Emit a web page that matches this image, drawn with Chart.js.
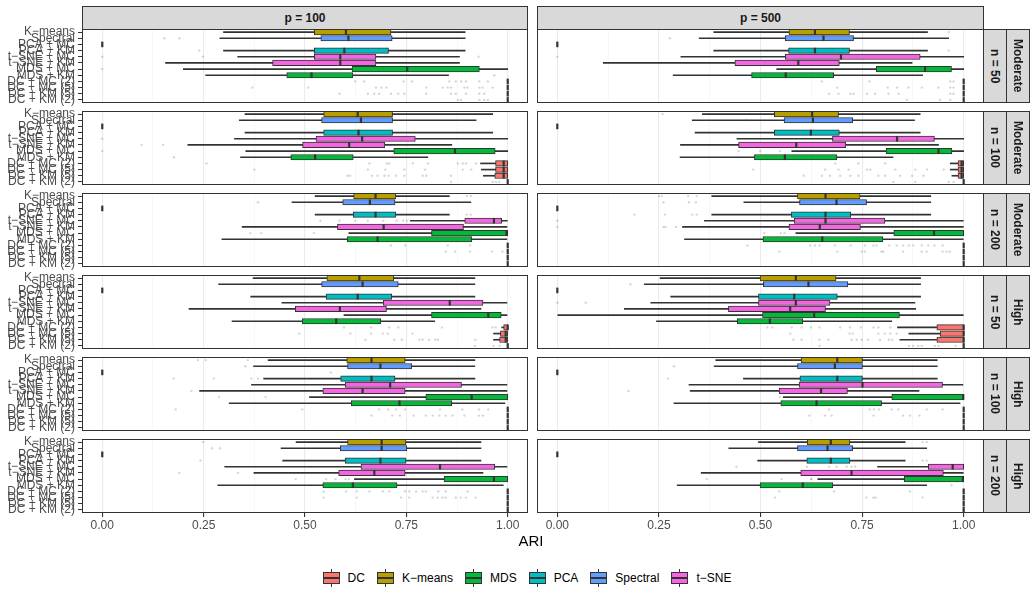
<!DOCTYPE html>
<html>
<head>
<meta charset="utf-8">
<script src="https://cdn.jsdelivr.net/npm/chart.js@4.4.1/dist/chart.umd.min.js"></script>
<style>
  body { margin: 0; background: #fff; font-family: "Liberation Sans", Arial, sans-serif; }
  #fig { position: relative; width: 1036px; height: 595px; overflow: hidden; background: #fff; }
  #fig canvas { position: absolute; }
  .strip { position: absolute; background: #D9D9D9; border: 1px solid #333; box-sizing: border-box;
           color: #1A1A1A; font-size: 12px; font-weight: bold; display: flex; align-items: center; justify-content: center; }
  .strip.v span { writing-mode: vertical-rl; }
  #titulo-x { position: absolute; left: 0; width: 1062px; top: 532px; text-align: center; font-size: 15px; color: #000; }
  #legenda { position: absolute; left: 0; width: 1066px; top: 569px; display: flex; justify-content: center; align-items: center;
             font-size: 12px; color: #000; }
  .chave { position: relative; width: 17px; height: 18px; margin-right: 8px; }
  .chave .bx { position: absolute; left: 0; top: 3px; width: 17px; height: 12px; border: 1px solid #333; box-sizing: border-box; }
  .chave .md { position: absolute; left: 0; top: 8px; width: 17px; height: 2px; background: #333; }
  .chave .wt { position: absolute; left: 8px; top: 0; width: 1px; height: 3px; background: #333; }
  .chave .wb { position: absolute; left: 8px; top: 15px; width: 1px; height: 3px; background: #333; }
  .rotulo { margin-right: 12px; }
</style>
</head>
<body>
<div id="fig"></div>
<script>
// ============================
// Categorias e rótulos
// ============================
const metodos = ['K−means', 'Spectral', 'PCA + MC', 'PCA + KM', 't−SNE + MC', 't−SNE + KM',
  'MDS + MC', 'MDS + KM', 'DC + MC (2)', 'DC + MC (5)', 'DC + KM (5)', 'DC + KM (2)'];
const familiaMetodo = ['K−means', 'Spectral', 'PCA', 'PCA', 't−SNE', 't−SNE', 'MDS', 'MDS', 'DC', 'DC', 'DC', 'DC'];
const familias = ['DC', 'K−means', 'MDS', 'PCA', 'Spectral', 't−SNE'];
const coresFamilia = ['#F8766D', '#B79F00', '#00BA38', '#00BFC4', '#619CFF', '#F564E3'];
const colunas = ['p = 100', 'p = 500'];
const linhasN = ['n = 50', 'n = 100', 'n = 200', 'n = 50', 'n = 100', 'n = 200'];
const linhasRuido = ['Moderate', 'Moderate', 'Moderate', 'High', 'High', 'High'];
const ticksX = [0, 0.125, 0.25, 0.375, 0.5, 0.625, 0.75, 0.875, 1];

// ============================
// Estatísticas [min, q1, mediana, q3, max] por painel
// ============================
const p100_n50_mod = [[0.299,0.523,0.601,0.712,0.895],[0.290,0.539,0.607,0.715,0.895],[0,0,0,0,0],[0.299,0.523,0.597,0.706,0.895],
  [0.334,0.523,0.587,0.675,0.881],[0.156,0.420,0.587,0.675,0.881],[0.200,0.616,0.752,0.930,1],[0.255,0.455,0.516,0.618,0.854],
  [1,1,1,1,1],[1,1,1,1,1],[1,1,1,1,1],[1,1,1,1,1]];
const p100_n50_mod_out = [[],[0.153,0.190],[],[0.239],[0,0.248,0.928],[],[0],[0.967],
  [0.624,0.646,0.743,0.764,0.856,0.872,0.885,0.897,0.930,0.951],
  [0.370,0.508,0.675,0.688,0.701,0.799,0.840,0.852,0.860,0.893,0.901,0.930,0.938,0.963],
  [0.585,0.655,0.671,0.683,0.712,0.730,0.745,0.799,0.860,0.872,0.897,0.930,0.942],
  [0.877,0.885,0.930,0.942,0.951]];

const p100_n100_mod = [[0.352,0.546,0.630,0.716,0.963],[0.338,0.541,0.638,0.716,0.922],[0,0,0,0,0],[0.352,0.546,0.632,0.716,0.963],
  [0.326,0.527,0.641,0.772,1],[0.211,0.494,0.609,0.697,0.862],[0.354,0.719,0.870,0.969,1],[0.341,0.465,0.525,0.619,0.803],
  [0.933,0.970,0.990,1,1],[0.935,0.970,0.990,1,1],[0.940,0.968,0.990,1,1],[1,1,1,1,1]];
const p100_n100_mod_out = [[],[],[],[],[0],[0.097,0.150],[0],[0.177],
  [0.257,0.659,0.702,0.708,0.766,0.803,0.877,0.889,0.897,0.922],
  [0.375,0.655,0.698,0.745,0.796,0.889,0.910],
  [0.605,0.611,0.665,0.679,0.696,0.706,0.725,0.745,0.790,0.799,0.860],
  [0.860,0.963,0.971,0.979]];

const p100_n200_mod = [[0.525,0.620,0.674,0.724,0.856],[0.468,0.593,0.660,0.722,0.909],[0,0,0,0,0],[0.525,0.619,0.674,0.724,0.856],
  [0.760,0.894,0.966,0.985,0.999],[0.345,0.580,0.694,0.891,0.998],[0.608,0.812,0.997,1,1],[0.295,0.604,0.679,0.911,0.998],
  [1,1,1,1,1],[1,1,1,1,1],[1,1,1,1,1],[1,1,1,1,1]];
const p100_n200_mod_out = [[0.899,0.909],[0.384],[],[0.899,0.909],[0.538,0.585,0.624,0.655,0.693,0.726,0.742,0.751],[],[0.365,0.392,0.522],[],
  [0.712,0.747,0.852,0.907],[0.847,0.870,0.907,0.961,0.987],[],[]];

const p100_n50_high = [[0.372,0.554,0.634,0.719,0.919],[0.287,0.541,0.642,0.730,0.919],[0,0,0,0,0],[0.366,0.552,0.630,0.714,0.919],
  [0.443,0.693,0.857,0.939,0.998],[0.214,0.476,0.586,0.701,0.934],[0.596,0.812,0.952,0.984,0.998],[0.320,0.493,0.577,0.687,0.820],
  [0.985,0.990,1,1,1],[0.965,0.982,0.995,1,1],[0.965,0.980,0.995,1,1],[1,1,1,1,1]];
const p100_n50_high_out = [[],[],[],[],[],[],[],[],
  [0.596,0.663,0.708,0.730,0.838,0.962,0.970],[0.486,0.612,0.663,0.692,0.704,0.765],
  [0.649,0.720,0.739,0.782,0.790,0.806,0.821,0.828,0.920],[0.919,0.965,0.980]];

const p100_n100_high = [[0.409,0.603,0.664,0.747,0.919],[0.373,0.605,0.686,0.763,0.919],[0,0,0,0,0],[0.398,0.588,0.664,0.722,0.919],
  [0.368,0.599,0.710,0.886,0.998],[0.240,0.544,0.642,0.747,0.998],[0.511,0.798,0.911,1,1],[0.313,0.614,0.733,0.862,0.993],
  [1,1,1,1,1],[1,1,1,1,1],[1,1,1,1,1],[1,1,1,1,1]];
const p100_n100_high_out = [[0.236,0.255,0.359],[0.353],[0.564],[0.176,0.275,0.368,0.384],[],[0.220],[0.288,0.403],[],
  [0.181,0.493,0.683,0.705,0.724,0.747,0.833,0.888,0.929,0.952],
  [0.664,0.715,0.734,0.768,0.798,0.815,0.831,0.847,0.864,0.893,0.929,0.939],[],[]];

const p100_n200_high = [[0.478,0.605,0.689,0.749,0.934],[0.441,0.587,0.689,0.751,0.934],[0,0,0,0,0],[0.445,0.599,0.686,0.749,0.934],
  [0.302,0.638,0.833,0.968,0.998],[0.374,0.583,0.671,0.747,0.939],[0.622,0.843,0.966,1,1],[0.285,0.544,0.618,0.727,0.989],
  [1,1,1,1,1],[1,1,1,1,1],[1,1,1,1,1],[1,1,1,1,1]];
const p100_n200_high_out = [[0.249],[0.271,0.290],[],[0.242],[],[0.190,0.335],[0.477,0.552,0.575,0.600,0.608],[],
  [0.546,0.601,0.628,0.659,0.692,0.708,0.747,0.757,0.774,0.790,0.798,0.829,0.847,0.901],
  [0.546,0.628,0.737,0.757,0.815,0.827,0.839,0.847,0.872,0.884,0.897,0.921],[],[]];

const p500_n50_mod = [[0.385,0.570,0.634,0.719,0.911],[0.349,0.561,0.655,0.729,0.963],[0,0,0,0,0],[0.385,0.569,0.634,0.719,0.911],
  [0.304,0.561,0.698,0.893,1],[0.113,0.437,0.593,0.694,0.873],[0.540,0.785,0.905,0.970,1],[0.285,0.478,0.562,0.680,0.899],
  [1,1,1,1,1],[1,1,1,1,1],[1,1,1,1,1],[1,1,1,1,1]];
const p500_n50_mod_out = [[0.963],[0.277],[],[0.963],[0],[],[],[],
  [0.651,0.768,0.967,0.975],[0.689,0.813,0.836,0.864,0.897,0.938,0.967,0.975],
  [0.669,0.692,0.721,0.729,0.762,0.782,0.815,0.840,0.967,0.975],[0.860,0.942,0.967]];

const p500_n100_mod = [[0.357,0.534,0.627,0.692,0.893],[0.332,0.558,0.629,0.727,0.879],[0,0,0,0,0],[0.339,0.534,0.624,0.694,0.893],
  [0.442,0.677,0.836,0.928,1],[0.303,0.446,0.588,0.710,0.938],[0.577,0.809,0.938,0.971,1],[0.302,0.485,0.560,0.688,0.826],
  [0.967,0.986,0.995,1,1],[0.967,0.986,0.995,1,1],[0.971,0.986,0.995,1,1],[1,1,1,1,1]];
const p500_n100_mod_out = [[0.259],[0.466],[],[],[],[],[0.446,0.499,0.548],[],
  [0.684,0.741,0.807],[0.482,0.659,0.692,0.717,0.762,0.770,0.832,0.881,0.910,0.951],
  [0.606,0.651,0.671,0.696,0.721,0.741,0.790,0.807,0.844,0.873,0.901],[0.827,0.881,0.963,0.975]];

const p500_n200_mod = [[0.380,0.591,0.660,0.745,0.919],[0.459,0.596,0.687,0.761,0.919],[0,0,0,0,0],[0.380,0.576,0.660,0.722,0.919],
  [0.362,0.583,0.660,0.806,0.999],[0.308,0.570,0.646,0.746,0.999],[0.587,0.828,0.927,1,1],[0.313,0.506,0.652,0.801,0.999],
  [1,1,1,1,1],[1,1,1,1,1],[1,1,1,1,1],[1,1,1,1,1]];
const p500_n200_mod_out = [[0.250,0.257,0.322,0.343],[0.261,0.324,0.341],[],[0.190,0.265,0.332,0.343],[0],[0,0.261,0.266,0.292],[0.509,0.550,0.559],[],
  [0.468,0.622,0.634,0.645,0.683,0.722,0.757,0.778,0.786,0.817,0.835,0.851,0.865,0.876,0.897,0.913,0.928,0.948],
  [0.546,0.689,0.749,0.757,0.798,0.802,0.851,0.897,0.909,0.948,0.958,0.966],[],[]];

const p500_n50_high = [[0.253,0.499,0.587,0.686,0.894],[0.214,0.507,0.618,0.715,0.894],[0,0,0,0,0],[0.279,0.495,0.583,0.689,0.894],
  [0.230,0.495,0.587,0.671,0.880],[0.165,0.421,0.573,0.660,0.882],[0,0.505,0.632,0.842,0.999],[0.244,0.443,0.523,0.604,0.823],
  [0.837,0.934,1,1,1],[0.865,0.942,1,1,1],[0.843,0.934,1,1,1],[1,1,1,1,1]];
const p500_n50_high_out = [[],[0.180],[],[],[0,0.070],[],[],[],
  [0.517,0.529,0.577,0.601,0.624,0.645,0.696,0.720,0.747,0.778,0.790,0.819],
  [0.573,0.719,0.727,0.790,0.806,0.819,0.835],
  [0.581,0.601,0.645,0.667,0.724,0.737,0.749,0.765,0.794,0.816,0.824],
  [0.645,0.865,0.876,0.888,0.897,0.929,0.938,0.980]];

const p500_n100_high = [[0.390,0.600,0.689,0.751,0.935],[0.386,0.591,0.683,0.751,0.935],[0,0,0,0,0],[0.458,0.597,0.689,0.751,0.935],
  [0.324,0.595,0.751,0.948,0.998],[0.327,0.546,0.649,0.714,0.890],[0.556,0.823,0.999,1,1],[0.287,0.550,0.638,0.798,0.991],
  [1,1,1,1,1],[1,1,1,1,1],[1,1,1,1,1],[1,1,1,1,1]];
const p500_n100_high_out = [[],[0.287],[],[0.272],[],[0.175],[0.548],[],
  [0.669,0.769,0.779,0.792,0.823,0.839,0.909,0.948],[0.620,0.659,0.675,0.778,0.851,0.868,0.891],[],[]];

const p500_n200_high = [[0.495,0.615,0.673,0.720,0.856],[0.422,0.591,0.665,0.727,0.909],[0,0,0,0,0],[0.493,0.614,0.673,0.720,0.856],
  [0.788,0.913,0.973,1,1],[0.354,0.599,0.724,0.950,0.999],[0.641,0.854,0.998,1,1],[0.295,0.499,0.604,0.678,0.909],
  [1,1,1,1,1],[1,1,1,1,1],[1,1,1,1,1],[1,1,1,1,1]];
const p500_n200_high_out = [[0.899,0.909],[],[],[0.899,0.909],[0.441,0.614,0.669,0.687,0.712,0.724,0.733],[],[0.368,0.552,0.624,0.626],[0.970],
  [0.546,0.681,0.868],[0.536,0.761,0.778,0.783,0.899],[],[]];

// ordem: linha (n / ruído) x coluna (p)
const paineis = [
  [p100_n50_mod, p100_n50_mod_out], [p500_n50_mod, p500_n50_mod_out],
  [p100_n100_mod, p100_n100_mod_out], [p500_n100_mod, p500_n100_mod_out],
  [p100_n200_mod, p100_n200_mod_out], [p500_n200_mod, p500_n200_mod_out],
  [p100_n50_high, p100_n50_high_out], [p500_n50_high, p500_n50_high_out],
  [p100_n100_high, p100_n100_high_out], [p500_n100_high, p500_n100_high_out],
  [p100_n200_high, p100_n200_high_out], [p500_n200_high, p500_n200_high_out]
];

// ============================
// Layout (px)
// ============================
const fig = document.getElementById('fig');
const FONTE = '"Liberation Sans", Arial, sans-serif';
const TOPO = 29, PASSO = 82, ALT = 74, MARGEM = 5;
const EIXO_Y = 82, LARG_ESQ = 528, ESQ_DIR = 537, LARG_DIR = 447, EIXO_X = 22;

const corMetodo = familiaMetodo.map(f => coresFamilia[familias.indexOf(f)]);
const ehMaior = v => Math.abs(v * 4 - Math.round(v * 4)) < 1e-6;

// borda do painel (theme_bw)
const bordaPainel = {
  id: 'bordaPainel',
  afterDraw(chart) {
    const a = chart.chartArea;
    const ctx = chart.ctx;
    ctx.save();
    ctx.strokeStyle = '#333';
    ctx.lineWidth = 1;
    ctx.strokeRect(a.left + 0.5, a.top + 0.5, a.right - a.left - 1, a.bottom - a.top - 1);
    ctx.restore();
  }
};

function criarPainel(linha, col) {
  const [stats, outl] = paineis[linha * 2 + col];
  const mostraY = col === 0;
  const mostraX = linha === 5;
  const padBaixo = mostraX ? 0 : MARGEM;

  // canvas um pouco maior que o painel para não cortar os rótulos do eixo y
  const canvas = document.createElement('canvas');
  canvas.width = mostraY ? LARG_ESQ : LARG_DIR;
  canvas.height = ALT + MARGEM + padBaixo + (mostraX ? EIXO_X : 0);
  canvas.style.left = (mostraY ? 0 : ESQ_DIR) + 'px';
  canvas.style.top = (TOPO + linha * PASSO - MARGEM) + 'px';
  fig.appendChild(canvas);

  const colapsado = s => s[1] === s[3] && s[0] === s[4];

  const datasets = [
    { // bigodes
      type: 'bar', grouped: false, order: 3,
      data: stats.map(s => colapsado(s) ? null : [s[0], s[4]]),
      backgroundColor: '#333', barThickness: 1
    },
    { // caixas
      type: 'bar', grouped: false, order: 2,
      data: stats.map(s => colapsado(s) ? null : [s[1], s[3]]),
      backgroundColor: corMetodo, borderColor: '#333', borderWidth: 1, borderSkipped: false,
      barThickness: 5.5
    },
    { // medianas
      type: 'scatter', order: 1,
      data: stats.map((s, i) => ({ x: s[2], y: metodos[i] })),
      pointStyle: 'line', pointRotation: 90, pointRadius: 2.8,
      pointBorderColor: '#333', pointBorderWidth: 2.2, pointBackgroundColor: '#333'
    },
    { // outliers
      type: 'scatter', order: 4,
      data: outl.flatMap((o, i) => o.map(v => ({ x: v, y: metodos[i] }))),
      pointStyle: 'circle', pointRadius: 1.2,
      pointBackgroundColor: 'rgba(0,0,0,0.16)', pointBorderWidth: 0
    }
  ];

  new Chart(canvas, {
    type: 'bar',
    data: { labels: metodos, datasets },
    plugins: [bordaPainel],
    options: {
      indexAxis: 'y',
      responsive: false,
      animation: false,
      events: [],
      layout: { padding: { top: MARGEM, bottom: padBaixo, left: 0, right: 0 }, autoPadding: false },
      plugins: { legend: { display: false }, tooltip: { enabled: false } },
      scales: {
        x: {
          type: 'linear', min: -0.05, max: 1.05,
          afterBuildTicks: s => { s.ticks = ticksX.map(v => ({ value: v })); },
          afterFit: s => { s.height = mostraX ? EIXO_X : 0; s.paddingLeft = 0; s.paddingRight = 0; },
          border: { display: false },
          grid: {
            color: c => ehMaior(c.tick.value) ? '#EBEBEB' : '#F2F2F2',
            lineWidth: c => ehMaior(c.tick.value) ? 1.1 : 0.6,
            drawTicks: mostraX, tickLength: 4,
            tickColor: c => ehMaior(c.tick.value) ? '#333' : 'rgba(0,0,0,0)'
          },
          ticks: {
            display: mostraX, autoSkip: false, maxRotation: 0, padding: 1,
            color: '#4D4D4D', font: { family: FONTE, size: 12 },
            callback: v => ehMaior(v) ? v.toFixed(2) : ''
          }
        },
        y: {
          type: 'category', labels: metodos, offset: true, display: mostraY,
          afterFit: s => { s.width = mostraY ? EIXO_Y : 0; s.paddingTop = 0; s.paddingBottom = 0; },
          border: { display: false },
          grid: { offset: false, drawOnChartArea: false, drawTicks: true, tickLength: 4, tickColor: '#333' },
          ticks: { autoSkip: false, padding: 3, color: '#4D4D4D', font: { family: FONTE, size: 12 } }
        }
      }
    }
  });
}

for (let linha = 0; linha < 6; linha++) {
  criarPainel(linha, 0);
  criarPainel(linha, 1);
}

// ============================
// Faixas (strips)
// ============================
function faixa(txt, left, top, w, h, vertical) {
  const d = document.createElement('div');
  d.className = 'strip' + (vertical ? ' v' : '');
  d.style.left = left + 'px'; d.style.top = top + 'px';
  d.style.width = w + 'px'; d.style.height = h + 'px';
  const s = document.createElement('span');
  s.textContent = txt;
  d.appendChild(s);
  fig.appendChild(d);
}
faixa(colunas[0], EIXO_Y, 6, LARG_ESQ - EIXO_Y, 24, false);
faixa(colunas[1], ESQ_DIR, 6, LARG_DIR, 24, false);
for (let linha = 0; linha < 6; linha++) {
  const t = TOPO + linha * PASSO;
  faixa(linhasN[linha], ESQ_DIR + LARG_DIR - 1, t, 24, ALT, true);
  faixa(linhasRuido[linha], ESQ_DIR + LARG_DIR + 22, t, 24, ALT, true);
}

// ============================
// Título do eixo e legenda
// ============================
const titulo = document.createElement('div');
titulo.id = 'titulo-x';
titulo.textContent = 'ARI';
fig.appendChild(titulo);

const legenda = document.createElement('div');
legenda.id = 'legenda';
familias.forEach((f, i) => {
  const k = document.createElement('div');
  k.className = 'chave';
  k.innerHTML = `<i class="wt"></i><i class="bx" style="background:${coresFamilia[i]}"></i><i class="md"></i><i class="wb"></i>`;
  const r = document.createElement('span');
  r.className = 'rotulo';
  r.textContent = f;
  legenda.appendChild(k);
  legenda.appendChild(r);
});
fig.appendChild(legenda);
</script>
</body>
</html>
